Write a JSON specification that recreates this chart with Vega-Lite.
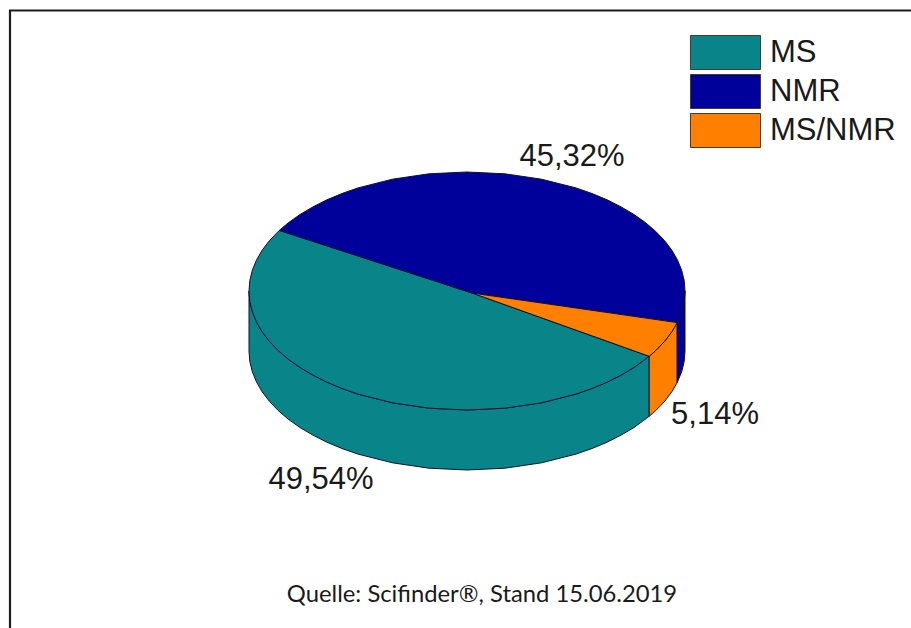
{
"$schema":"https://vega.github.io/schema/vega-lite/v6.json",
"width":911,"height":628,"padding":0,"autosize":{"type":"none"},
"background":"white",
"config":{"view":{"stroke":null}},
"datasets":{
"frame":[{"x":10,"y":628},{"x":10,"y":10.5},{"x":911,"y":10.5}],
"labels":[{"slice":"NMR","value":45.32,"label":"45,32%","x":572,"y":166},{"slice":"MS/NMR","value":5.14,"label":"5,14%","x":715,"y":424},{"slice":"MS","value":49.54,"label":"49,54%","x":321,"y":489}],
"source":[{"text":"Quelle: Scifinder®, Stand 15.06.2019","x":482,"y":601.5}],
"pie":[
{"slice":"MS","piece":"MS side","x":649.2,"y":356.3},{"slice":"MS","piece":"MS side","x":634,"y":367.5},{"slice":"MS","piece":"MS side","x":621.1,"y":375.1},{"slice":"MS","piece":"MS side","x":607.1,"y":382.2},{"slice":"MS","piece":"MS side","x":592,"y":388.5},{"slice":"MS","piece":"MS side","x":576,"y":394.1},{"slice":"MS","piece":"MS side","x":541.6,"y":402.8},{"slice":"MS","piece":"MS side","x":504.9,"y":408.2},{"slice":"MS","piece":"MS side","x":467,"y":410},{"slice":"MS","piece":"MS side","x":429.1,"y":408.2},{"slice":"MS","piece":"MS side","x":392.4,"y":402.8},{"slice":"MS","piece":"MS side","x":358,"y":394.1},{"slice":"MS","piece":"MS side","x":342,"y":388.5},{"slice":"MS","piece":"MS side","x":326.9,"y":382.2},{"slice":"MS","piece":"MS side","x":312.9,"y":375.1},{"slice":"MS","piece":"MS side","x":300,"y":367.5},{"slice":"MS","piece":"MS side","x":288.4,"y":359.3},{"slice":"MS","piece":"MS side","x":278.2,"y":350.5},{"slice":"MS","piece":"MS side","x":269.4,"y":341.3},{"slice":"MS","piece":"MS side","x":262.1,"y":331.7},{"slice":"MS","piece":"MS side","x":256.4,"y":321.8},{"slice":"MS","piece":"MS side","x":252.3,"y":311.7},{"slice":"MS","piece":"MS side","x":249.8,"y":301.4},{"slice":"MS","piece":"MS side","x":249,"y":291},
{"slice":"MS","piece":"MS side","x":249,"y":351},{"slice":"MS","piece":"MS side","x":249.8,"y":361.4},{"slice":"MS","piece":"MS side","x":252.3,"y":371.7},{"slice":"MS","piece":"MS side","x":256.4,"y":381.8},{"slice":"MS","piece":"MS side","x":262.1,"y":391.7},{"slice":"MS","piece":"MS side","x":269.4,"y":401.3},{"slice":"MS","piece":"MS side","x":278.2,"y":410.5},{"slice":"MS","piece":"MS side","x":288.4,"y":419.3},{"slice":"MS","piece":"MS side","x":300,"y":427.5},{"slice":"MS","piece":"MS side","x":312.9,"y":435.1},{"slice":"MS","piece":"MS side","x":326.9,"y":442.2},{"slice":"MS","piece":"MS side","x":342,"y":448.5},{"slice":"MS","piece":"MS side","x":358,"y":454.1},{"slice":"MS","piece":"MS side","x":392.4,"y":462.8},{"slice":"MS","piece":"MS side","x":429.1,"y":468.2},{"slice":"MS","piece":"MS side","x":467,"y":470},{"slice":"MS","piece":"MS side","x":504.9,"y":468.2},{"slice":"MS","piece":"MS side","x":541.6,"y":462.8},{"slice":"MS","piece":"MS side","x":576,"y":454.1},{"slice":"MS","piece":"MS side","x":592,"y":448.5},{"slice":"MS","piece":"MS side","x":607.1,"y":442.2},{"slice":"MS","piece":"MS side","x":621.1,"y":435.1},{"slice":"MS","piece":"MS side","x":634,"y":427.5},{"slice":"MS","piece":"MS side","x":649.2,"y":416.3},{"slice":"MS","piece":"MS side","x":649.2,"y":356.3},
{"slice":"MS/NMR","piece":"MS/NMR side","x":677.2,"y":322.6},{"slice":"MS/NMR","piece":"MS/NMR side","x":671.9,"y":331.7},{"slice":"MS/NMR","piece":"MS/NMR side","x":664.6,"y":341.3},{"slice":"MS/NMR","piece":"MS/NMR side","x":655.8,"y":350.5},{"slice":"MS/NMR","piece":"MS/NMR side","x":649.2,"y":356.3},{"slice":"MS/NMR","piece":"MS/NMR side","x":649.2,"y":416.3},{"slice":"MS/NMR","piece":"MS/NMR side","x":655.8,"y":410.5},{"slice":"MS/NMR","piece":"MS/NMR side","x":664.6,"y":401.3},{"slice":"MS/NMR","piece":"MS/NMR side","x":671.9,"y":391.7},{"slice":"MS/NMR","piece":"MS/NMR side","x":677.2,"y":382.6},{"slice":"MS/NMR","piece":"MS/NMR side","x":677.2,"y":322.6},
{"slice":"NMR","piece":"NMR side","x":685,"y":291},{"slice":"NMR","piece":"NMR side","x":684.2,"y":301.4},{"slice":"NMR","piece":"NMR side","x":681.7,"y":311.7},{"slice":"NMR","piece":"NMR side","x":677.2,"y":322.6},{"slice":"NMR","piece":"NMR side","x":677.2,"y":382.6},{"slice":"NMR","piece":"NMR side","x":681.7,"y":371.7},{"slice":"NMR","piece":"NMR side","x":684.2,"y":361.4},{"slice":"NMR","piece":"NMR side","x":685,"y":351},{"slice":"NMR","piece":"NMR side","x":685,"y":291},
{"slice":"MS","piece":"MS top","x":472,"y":293},{"slice":"MS","piece":"MS top","x":649.2,"y":356.3},{"slice":"MS","piece":"MS top","x":634,"y":367.5},{"slice":"MS","piece":"MS top","x":621.1,"y":375.1},{"slice":"MS","piece":"MS top","x":607.1,"y":382.2},{"slice":"MS","piece":"MS top","x":592,"y":388.5},{"slice":"MS","piece":"MS top","x":576,"y":394.1},{"slice":"MS","piece":"MS top","x":541.6,"y":402.8},{"slice":"MS","piece":"MS top","x":504.9,"y":408.2},{"slice":"MS","piece":"MS top","x":467,"y":410},{"slice":"MS","piece":"MS top","x":429.1,"y":408.2},{"slice":"MS","piece":"MS top","x":392.4,"y":402.8},{"slice":"MS","piece":"MS top","x":358,"y":394.1},{"slice":"MS","piece":"MS top","x":342,"y":388.5},{"slice":"MS","piece":"MS top","x":326.9,"y":382.2},{"slice":"MS","piece":"MS top","x":312.9,"y":375.1},{"slice":"MS","piece":"MS top","x":300,"y":367.5},{"slice":"MS","piece":"MS top","x":288.4,"y":359.3},{"slice":"MS","piece":"MS top","x":278.2,"y":350.5},{"slice":"MS","piece":"MS top","x":269.4,"y":341.3},{"slice":"MS","piece":"MS top","x":262.1,"y":331.7},{"slice":"MS","piece":"MS top","x":256.4,"y":321.8},{"slice":"MS","piece":"MS top","x":252.3,"y":311.7},{"slice":"MS","piece":"MS top","x":249.8,"y":301.4},{"slice":"MS","piece":"MS top","x":249,"y":291},{"slice":"MS","piece":"MS top","x":249.8,"y":280.6},{"slice":"MS","piece":"MS top","x":252.3,"y":270.3},{"slice":"MS","piece":"MS top","x":256.4,"y":260.2},{"slice":"MS","piece":"MS top","x":262.1,"y":250.3},{"slice":"MS","piece":"MS top","x":269.4,"y":240.7},{"slice":"MS","piece":"MS top","x":279.3,"y":230.4},{"slice":"MS","piece":"MS top","x":472,"y":293},
{"slice":"NMR","piece":"NMR top","x":472,"y":293},{"slice":"NMR","piece":"NMR top","x":279.3,"y":230.4},{"slice":"NMR","piece":"NMR top","x":288.4,"y":222.7},{"slice":"NMR","piece":"NMR top","x":300,"y":214.5},{"slice":"NMR","piece":"NMR top","x":312.9,"y":206.9},{"slice":"NMR","piece":"NMR top","x":326.9,"y":199.8},{"slice":"NMR","piece":"NMR top","x":342,"y":193.5},{"slice":"NMR","piece":"NMR top","x":358,"y":187.9},{"slice":"NMR","piece":"NMR top","x":392.4,"y":179.2},{"slice":"NMR","piece":"NMR top","x":429.1,"y":173.8},{"slice":"NMR","piece":"NMR top","x":467,"y":172},{"slice":"NMR","piece":"NMR top","x":504.9,"y":173.8},{"slice":"NMR","piece":"NMR top","x":541.6,"y":179.2},{"slice":"NMR","piece":"NMR top","x":576,"y":187.9},{"slice":"NMR","piece":"NMR top","x":592,"y":193.5},{"slice":"NMR","piece":"NMR top","x":607.1,"y":199.8},{"slice":"NMR","piece":"NMR top","x":621.1,"y":206.9},{"slice":"NMR","piece":"NMR top","x":634,"y":214.5},{"slice":"NMR","piece":"NMR top","x":645.6,"y":222.7},{"slice":"NMR","piece":"NMR top","x":655.8,"y":231.5},{"slice":"NMR","piece":"NMR top","x":664.6,"y":240.7},{"slice":"NMR","piece":"NMR top","x":671.9,"y":250.3},{"slice":"NMR","piece":"NMR top","x":677.6,"y":260.2},{"slice":"NMR","piece":"NMR top","x":681.7,"y":270.3},{"slice":"NMR","piece":"NMR top","x":684.2,"y":280.6},{"slice":"NMR","piece":"NMR top","x":685,"y":291},{"slice":"NMR","piece":"NMR top","x":684.2,"y":301.4},{"slice":"NMR","piece":"NMR top","x":681.7,"y":311.7},{"slice":"NMR","piece":"NMR top","x":677.2,"y":322.6},{"slice":"NMR","piece":"NMR top","x":472,"y":293},
{"slice":"MS/NMR","piece":"MS/NMR top","x":472,"y":293},{"slice":"MS/NMR","piece":"MS/NMR top","x":677.2,"y":322.6},{"slice":"MS/NMR","piece":"MS/NMR top","x":671.9,"y":331.7},{"slice":"MS/NMR","piece":"MS/NMR top","x":664.6,"y":341.3},{"slice":"MS/NMR","piece":"MS/NMR top","x":655.8,"y":350.5},{"slice":"MS/NMR","piece":"MS/NMR top","x":649.2,"y":356.3},{"slice":"MS/NMR","piece":"MS/NMR top","x":472,"y":293}
]},
"encoding":{
"x":{"field":"x","type":"quantitative","scale":{"domain":[0,911],"nice":false,"zero":false},"axis":null},
"y":{"field":"y","type":"quantitative","scale":{"domain":[628,0],"nice":false,"zero":false},"axis":null}
},
"layer":[
{"data":{"name":"frame"},"transform":[{"window":[{"op":"row_number","as":"seq"}]}],"mark":{"type":"line","stroke":"#1c1c1c","strokeWidth":2.2},"encoding":{"order":{"field":"seq","type":"quantitative"}}},
{"data":{"name":"pie"},
"transform":[{"window":[{"op":"row_number","as":"seq"}]}],
"mark":{"type":"line","stroke":"#101030","strokeWidth":1,"strokeJoin":"round"},
"encoding":{
"order":{"field":"seq","type":"quantitative"},
"detail":{"field":"piece"},
"fill":{"field":"slice","type":"nominal","scale":{"domain":["MS","NMR","MS/NMR"],"range":["#09858a","#00009a","#ff8000"]},
"legend":{"title":null,"orient":"none","legendX":708,"legendY":35,"symbolType":"M-2.06,-1H2.06V1H-2.06Z","symbolSize":1156,"symbolStrokeColor":"#4a3a20","symbolStrokeWidth":1,"symbolOpacity":1,"labelFont":"Liberation Sans","labelFontSize":31,"labelColor":"#1a1a1a","labelOffset":27,"rowPadding":0,"labelLimit":300,"padding":0}}
}},
{"data":{"name":"labels"},"mark":{"type":"text","font":"Liberation Sans","fontSize":31,"color":"#1a1a1a","align":"center","baseline":"alphabetic"},"encoding":{"text":{"field":"label"}}},
{"data":{"name":"source"},"mark":{"type":"text","font":"Lato","fontSize":23.8,"color":"#1a1a1a","align":"center","baseline":"alphabetic"},"encoding":{"text":{"field":"text"}}}
]
}
